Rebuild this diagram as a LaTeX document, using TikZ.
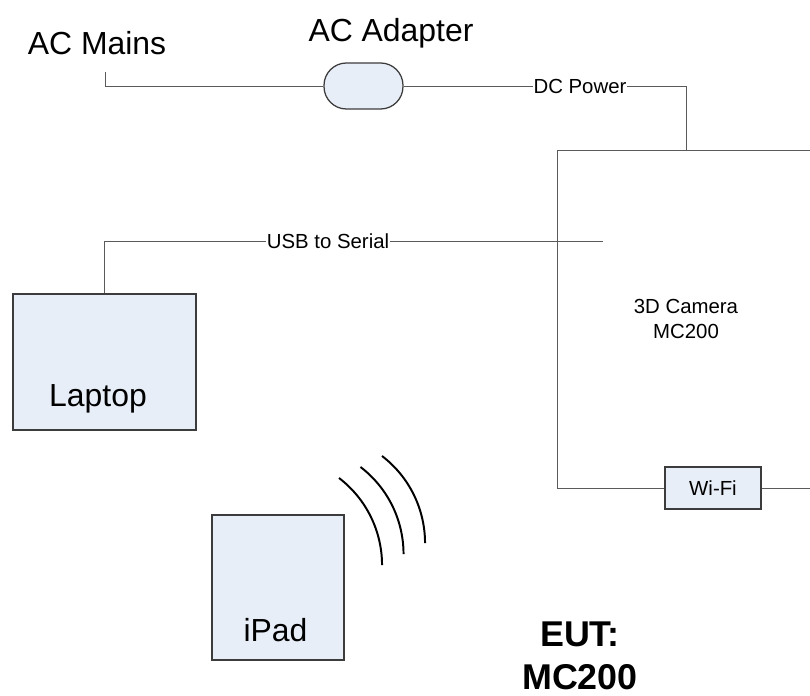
\documentclass[tikz,border=0pt]{standalone}
\usepackage{fontspec}
\setmainfont{Liberation Sans}
\usetikzlibrary{positioning}
\definecolor{boxfill}{RGB}{232,238,247}
\definecolor{wiregray}{RGB}{90,90,90}
\definecolor{edgegray}{RGB}{60,60,60}

\begin{document}
\begin{tikzpicture}[
  wire/.style={draw=wiregray, line width=0.7pt},
  unit/.style={draw=edgegray, line width=0.9pt, fill=boxfill, inner sep=0pt},
  bigtxt/.style={font=\fontsize{22.7}{27}\selectfont, inner sep=0pt},
  smalltxt/.style={font=\fontsize{14.5}{17.7}\selectfont, inner sep=0.5pt},
  eut/.style={font=\fontsize{25.5}{30}\selectfont\bfseries, inner sep=0pt},
  wave/.style={draw=black, line width=1.4pt}]
  \useasboundingbox (0,0) rectangle (20.25,17.4);
  \clip (0,0) rectangle (20.25,17.4);

  % Power path
  \node[bigtxt, anchor=base] (mains_lbl) at (2.425, 16.025) {AC Mains};
  \node[bigtxt, anchor=base] (adapter_lbl) at (9.775, 16.35) {AC Adapter};
  \coordinate (mains) at (2.625, 15.6);
  \node[unit, rounded corners=0.56cm, minimum width=1.975cm, minimum height=1.15cm] (adapter) at (9.0875, 15.25) {};
  \node[smalltxt, fill=white] (dc_lbl) at (14.5, 15.25) {DC Power};
  \draw[wire] (mains) |- (adapter.west);
  \draw[wire] (adapter.east) -- (dc_lbl.west);

  % Camera
  \node[draw=wiregray, line width=0.7pt, minimum width=6.45cm, minimum height=8.45cm, align=center, font=\fontsize{14.5}{17.7}\selectfont] (cam) at (17.15, 9.425) {3D Camera\\MC200};
  \draw[wire] (dc_lbl.east) -| (cam.north);
  \node[unit, smalltxt, minimum width=2.4cm, minimum height=1.05cm] (wifi) at (17.825, 5.2) {Wi-Fi};

  % Laptop
  \node[unit, minimum width=4.575cm, minimum height=3.4cm] (laptop) at (2.6125, 8.35) {};
  \node[bigtxt, anchor=base] (laptop_lbl) at (2.45, 7.225) {Laptop};
  \node[smalltxt, fill=white] (usb_lbl) at (8.2, 11.375) {USB to Serial};
  \coordinate (usb_end) at (15.075, 11.375);
  \draw[wire] (laptop.north) |- (usb_lbl.west);
  \draw[wire] (usb_lbl.east) -- (usb_end);

  % iPad and radio waves
  \node[unit, minimum width=3.3cm, minimum height=3.625cm] (ipad) at (6.95, 2.7125) {};
  \node[bigtxt, anchor=base] (ipad_lbl) at (6.8875, 1.35) {iPad};
  \foreach \k in {0,1,2}
    \draw[wave, shift={(\k*0.5375, \k*0.275)}] (8.475, 5.45) arc[start angle=52.6, end angle=0, radius=2.74];

  % EUT caption
  \node[eut, anchor=base] (eut_lbl) at (14.5, 1.225) {EUT:};
  \node[eut, anchor=base] (eut_name) at (14.5, 0.15) {MC200};
\end{tikzpicture}
\end{document}
